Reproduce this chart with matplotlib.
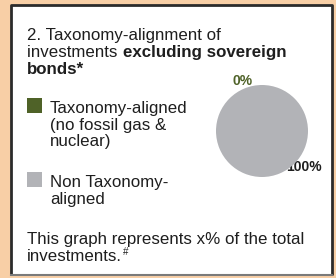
import matplotlib
matplotlib.use("Agg")
import matplotlib.pyplot as plt
from matplotlib.patches import Rectangle

plt.rcParams['font.family'] = ['Liberation Sans', 'DejaVu Sans']

# data
categories = ["Taxonomy-aligned\n(no fossil gas &\nnuclear)", "Non Taxonomy-\naligned"]
values = [0, 100]
value_labels = ["0%", "100%"]
colors = ["#4F6228", "#B2B3B7"]
title_plain = ["2. Taxonomy-alignment of", "investments "]
title_bold = "excluding sovereign"
title_last = "bonds*"
footer = ["This graph represents x% of the total", "investments."]
footer_mark = "#"

W, H = 336, 278
fig = plt.figure(figsize=(W / 100, H / 100), dpi=100)
fig.patch.set_facecolor("#F8CFA6")

bg = fig.add_axes([0, 0, 1, 1])
bg.set_xlim(0, W)
bg.set_ylim(H, 0)
bg.axis("off")

# white box
bg.add_patch(Rectangle((11, 5), 321, 270, facecolor="white", edgecolor="none"))
bg.plot([11, 11, 332, 332], [275, 5, 5, 275], color="#2B2B2B", lw=2, solid_capstyle="butt")
bg.plot([11, 332], [275, 275], color="#7A7A7A", lw=1.5)

fs = 12.2
txt = dict(fontsize=fs, color="#1E1E1E", va="baseline", ha="left")


def right_edge(t):
    fig.canvas.draw()
    ext = t.get_window_extent(fig.canvas.get_renderer())
    return bg.transData.inverted().transform((ext.x1, 0))[0]


bg.text(27, 40, title_plain[0], **txt)
t2 = bg.text(27, 57, title_plain[1], **txt)
bg.text(right_edge(t2) + 1, 57, title_bold, fontweight="bold", **txt)
bg.text(27, 74, title_last, fontweight="bold", **txt)

# legend
leg_y = [98, 172]
for cat, c, y0 in zip(categories, colors, leg_y):
    bg.add_patch(Rectangle((27, y0), 15, 15, facecolor=c, edgecolor="none"))
    for i, line in enumerate(cat.split("\n")):
        bg.text(50, y0 + 15 + i * 16.7, line, **txt)

bg.text(27, 244, footer[0], **txt)
t_inv = bg.text(27, 261, footer[1], **txt)
bg.text(right_edge(t_inv) + 0.5, 255, footer_mark, fontsize=7, color="#1E1E1E",
        ha="left", va="baseline")

# pie
cx, cy, rad = 262, 131, 46
pax = fig.add_axes([(cx - rad) / W, (H - cy - rad) / H, 2 * rad / W, 2 * rad / H])
pax.pie(values, colors=colors, startangle=90, counterclock=False,
        wedgeprops=dict(linewidth=0))
pax.set_xlim(-1, 1)
pax.set_ylim(-1, 1)
pax.set_aspect("auto")
pax.axis("off")

bg.text(243, 85, value_labels[0], fontsize=10, fontweight="bold", color=colors[0],
        ha="center", va="baseline")
bg.text(304, 171, value_labels[1], fontsize=10, fontweight="bold", color="#1E1E1E",
        ha="center", va="baseline")

fig.savefig("out.png", dpi=100, facecolor=fig.get_facecolor())
